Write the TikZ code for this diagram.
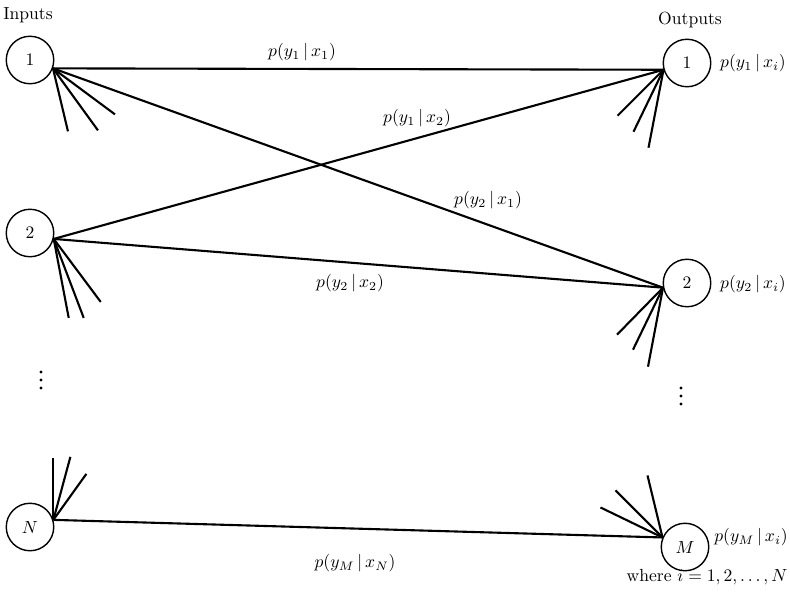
\documentclass[tikz,border=0pt]{standalone}
\usepackage{amsmath}

\begin{document}
\begin{tikzpicture}[x=0.02cm, y=-0.02cm,
  state/.style={draw, circle, line width=0.8pt, minimum size=0.95cm, inner sep=0pt},
  link/.style={line width=1.2pt},
  prob/.style={inner sep=0.5pt}]
  \useasboundingbox (0,0) rectangle (790,603);
  % 输入端与输出端
  \node[state] (in1) at (30,60) {$1$};
  \node[state] (in2) at (30,233) {$2$};
  \node[state] (inN) at (30,527) {$N$};
  \node[state] (out1) at (687,63) {$1$};
  \node[state] (out2) at (687,283) {$2$};
  \node[state] (outM) at (685,547) {$M$};
  \node at (28,15) {Inputs};
  \node at (690,20) {Outputs};
  % 连线端点
  \coordinate (a1) at (in1.-20);
  \coordinate (a2) at (in2.-14);
  \coordinate (aN) at (inN.17);
  \coordinate (b1) at (out1.196);
  \coordinate (b2) at (out2.191);
  \coordinate (bM) at (outM.157);
  % 转移概率
  \draw[link] (a1) -- (b1);
  \draw[link] (a1) -- (b2);
  \draw[link] (a2) -- (b1);
  \draw[link] (a2) -- (b2);
  \draw[link] (aN) -- (bM);
  \node[prob] at (302,52) {$p(y_1\,|\,x_1)$};
  \node[prob] at (417,118) {$p(y_1\,|\,x_2)$};
  \node[prob] at (488,200) {$p(y_2\,|\,x_1)$};
  \node[prob] at (350,283) {$p(y_2\,|\,x_2)$};
  \node[prob] at (355,563) {$p(y_M\,|\,x_N)$};
  % 其余分支
  \foreach \dx/\dy in {15/63, 45/62, 62/46}
    \draw[link] (a1) -- ++(\dx,\dy);
  \foreach \dx/\dy in {15/79, 30/79, 47/63}
    \draw[link] (a2) -- ++(\dx,\dy);
  \foreach \dx/\dy in {0/-62, 17/-63, 33/-46}
    \draw[link] (aN) -- ++(\dx,\dy);
  \foreach \dx/\dy in {-46/46, -30/62, -15/78}
    \draw[link] (b1) -- ++(\dx,\dy);
  \foreach \dx/\dy in {-46/47, -30/62, -15/79}
    \draw[link] (b2) -- ++(\dx,\dy);
  \foreach \dx/\dy in {-62/-30, -47/-47, -15/-62}
    \draw[link] (bM) -- ++(\dx,\dy);
  % 省略号
  \foreach \y in {372, 380, 388}
    \fill (41,\y) circle (1.6);
  \foreach \y in {388, 396, 404}
    \fill (681,\y) circle (1.6);
  % 输出概率
  \node[prob] at (753,63) {$p(y_1\,|\,x_i)$};
  \node[prob] at (753,284) {$p(y_2\,|\,x_i)$};
  \node[prob] at (751,537) {$p(y_M\,|\,x_i)$};
  \node at (707,577) {where $i = 1, 2, \ldots, N$};
\end{tikzpicture}
\end{document}
